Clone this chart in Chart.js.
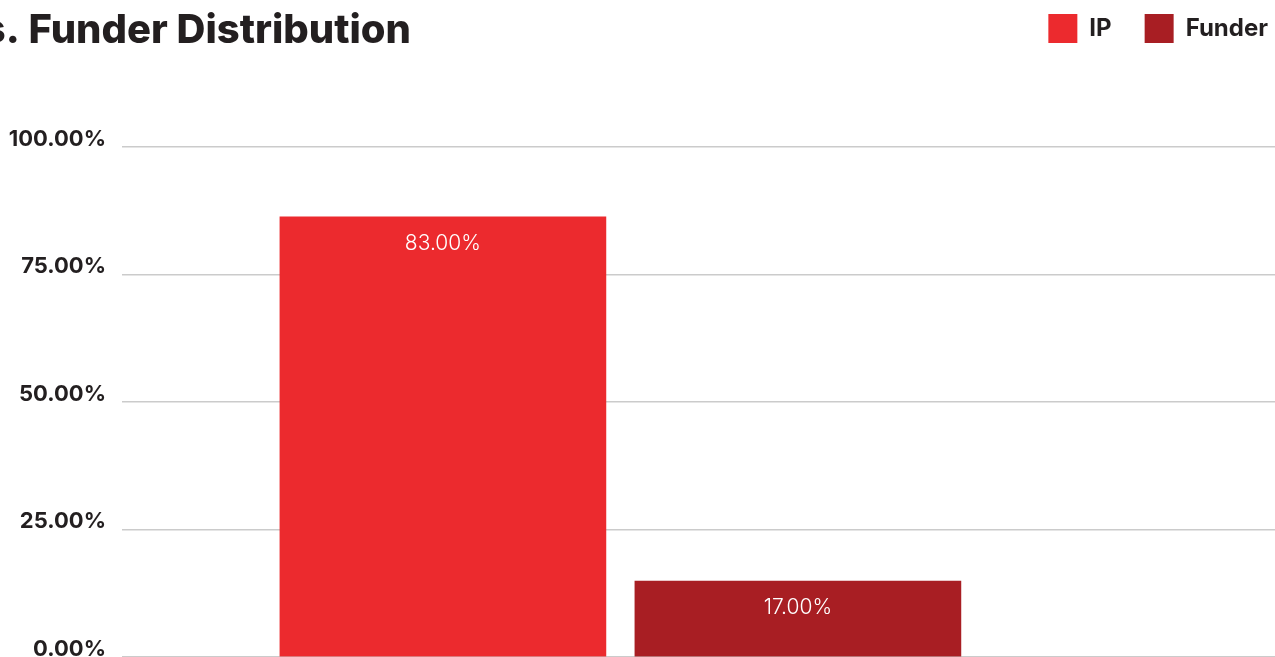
<!DOCTYPE html>
<html>
<head>
<meta charset="utf-8">
<script src="https://cdn.jsdelivr.net/npm/chart.js@4.4.1/dist/chart.umd.min.js"></script>
<style>
  html, body { margin: 0; padding: 0; background: #fff; overflow: hidden; }
  #wrap { position: relative; width: 1275px; height: 657px; }
</style>
</head>
<body>
<div id="wrap"><canvas id="distChart"></canvas></div>
<script>
// Data
const chartTitle = 'IP vs. Funder Distribution'
const seriesNames = ['IP', 'Funder']
const seriesSlots = [1, 2]
const seriesValues = [86.3, 14.9]          // bar heights as drawn
const valueLabels = ['83.00%', '17.00%']    // labels printed on the bars
const seriesColors = ['#ec2a2e', '#a81e23']
const yTicks = [0, 25, 50, 75, 100]

const FONT = 'Inter, "Noto Sans", sans-serif'
const INK = '#231f20'
const PLOT_TOP = 147

// title drawn at the top left, partly cut off like the reference
const titlePlugin = {
    id: 'cutTitle',
    afterDraw(chart) {
        const ctx = chart.ctx
        ctx.save()
        ctx.font = '800 40px ' + FONT
        ctx.fillStyle = INK
        ctx.textAlign = 'right'
        ctx.textBaseline = 'alphabetic'
        ctx.fillText(chartTitle, 411, 43)
        ctx.restore()
    }
}

// keep the legend in the top row but leave room down to the plot
const legendSpace = {
    id: 'legendSpace',
    afterInit(chart) {
        const legend = chart.legend
        const baseFit = legend.fit
        legend.fit = function () {
            baseFit.call(this)
            this.height = PLOT_TOP - chart.options.layout.padding.top
        }
    }
}

// white value labels inside the bars
const barLabels = {
    id: 'barLabels',
    afterDatasetsDraw(chart) {
        const ctx = chart.ctx
        ctx.save()
        ctx.font = '300 21px ' + FONT
        ctx.fillStyle = '#ffffff'
        ctx.textAlign = 'center'
        ctx.textBaseline = 'middle'
        chart.data.datasets.forEach((ds, i) => {
            const meta = chart.getDatasetMeta(i)
            meta.data.forEach(bar => {
                ctx.fillText(valueLabels[i], bar.x, bar.y + 27)
            })
        })
        ctx.restore()
    }
}

const datasets = seriesNames.map((name, i) => ({
    label: name,
    data: [{ x: seriesSlots[i], y: seriesValues[i] }],
    backgroundColor: seriesColors[i],
    borderWidth: 0,
    barThickness: 326,
    grouped: false
}))

const config = {
    type: 'bar',
    data: { datasets: datasets },
    plugins: [legendSpace, titlePlugin, barLabels],
    options: {
        responsive: true,
        maintainAspectRatio: false,
        animation: false,
        layout: { padding: { top: -19, right: -26, bottom: 0, left: 0 } },
        plugins: {
            tooltip: { enabled: false },
            legend: {
                position: 'top',
                align: 'end',
                labels: {
                    boxWidth: 29,
                    boxHeight: 29,
                    padding: 33,
                    color: INK,
                    font: { family: FONT, size: 24, weight: '700' }
                }
            }
        },
        scales: {
            x: {
                type: 'linear',
                offset: false,
                min: 0.096,
                max: 3.344,
                display: false
            },
            y: {
                min: 0,
                max: 100,
                afterBuildTicks(scale) {
                    scale.ticks = yTicks.map(v => ({ value: v }))
                },
                afterFit(scale) {
                    scale.width = 122
                    scale.paddingBottom = 0
                },
                border: { display: false },
                grid: { color: '#cbcbcb', lineWidth: 1.5, drawTicks: false },
                ticks: {
                    padding: 16,
                    labelOffset: -8,
                    color: INK,
                    font: { family: FONT, size: 22, weight: '700' },
                    callback: v => v.toFixed(2) + '%'
                }
            }
        }
    }
}

new Chart(document.getElementById('distChart'), config)
</script>
</body>
</html>
